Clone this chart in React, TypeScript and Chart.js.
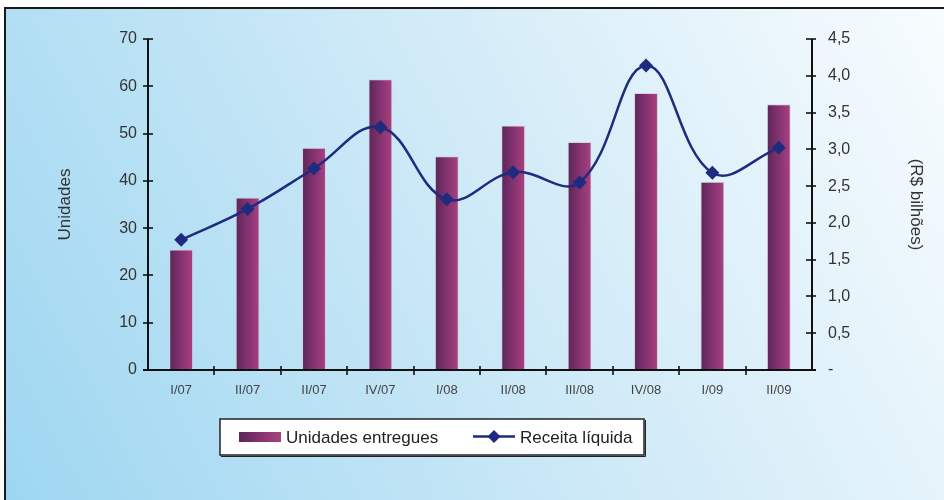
import React, { useEffect, useRef } from 'react';
import { Chart, registerables } from 'chart.js';

Chart.register(...registerables);

const categories = ['I/07', 'II/07', 'II/07', 'IV/07', 'I/08', 'II/08', 'III/08', 'IV/08', 'I/09', 'II/09'];
const unidades = [25.5, 36.5, 47, 61.5, 45.2, 51.7, 48.2, 58.6, 39.8, 56.2];
const receita = [1.77, 2.19, 2.74, 3.3, 2.32, 2.69, 2.55, 4.14, 2.68, 3.02];
const seriesLabels = ['Unidades entregues', 'Receita líquida'];
const axisTitles = ['Unidades', '(R$ bilhões)'];

const FONT = '"Liberation Sans", Arial, Helvetica, sans-serif';
const BAR_PCT = 0.36;

function makeBarGradient(ctx: CanvasRenderingContext2D, x0: number, x1: number) {
  const g = ctx.createLinearGradient(x0, 0, x1, 0);
  g.addColorStop(0, '#5a2657');
  g.addColorStop(0.5, '#853270');
  g.addColorStop(1, '#a8417e');
  return g;
}

const barColor = (c: any) => {
  const chart = c.chart;
  const xs = chart.scales && chart.scales.x;
  if (c.type !== 'data' || !xs || !chart.chartArea) return '#85326f';
  const cx = xs.getPixelForValue(c.dataIndex);
  const w = (xs.width / categories.length) * BAR_PCT;
  return makeBarGradient(chart.ctx, cx - w / 2, cx + w / 2);
};

const bgPlugin = {
  id: 'bgFrame',
  beforeDraw(chart: any) {
    const { ctx, width, height } = chart;
    ctx.save();
    ctx.fillStyle = '#ffffff';
    ctx.fillRect(0, 0, width, height);
    const g = ctx.createLinearGradient(0, height, width, 0);
    g.addColorStop(0, '#9dd6f1');
    g.addColorStop(0.5, '#cde9f7');
    g.addColorStop(1, '#f8fcfe');
    ctx.fillStyle = g;
    ctx.fillRect(5, 8, width, height);
    ctx.strokeStyle = '#1a1a1a';
    ctx.lineWidth = 2;
    ctx.strokeRect(5, 8, width + 20, height + 20);
    ctx.restore();
  },
};

const axesPlugin = {
  id: 'axesDraw',
  afterDatasetsDraw(chart: any) {
    const { ctx, chartArea, scales } = chart;
    const { left, right, top, bottom } = chartArea;
    const line = (x0: number, y0: number, x1: number, y1: number) => {
      ctx.beginPath();
      ctx.moveTo(x0, y0);
      ctx.lineTo(x1, y1);
      ctx.stroke();
    };
    ctx.save();
    ctx.strokeStyle = '#111111';
    ctx.lineWidth = 2;
    line(left, top, left, bottom);
    line(right, top, right, bottom);
    line(left - 5, bottom, right + 4, bottom);
    ctx.lineWidth = 1.6;
    scales.y.ticks.forEach((t: any) => {
      const y = Math.round(scales.y.getPixelForValue(t.value));
      line(left - 5, y, left + 5, y);
    });
    scales.y1.ticks.forEach((t: any) => {
      const y = Math.round(scales.y1.getPixelForValue(t.value));
      line(right - 6, y, right + 4, y);
    });
    const n = categories.length;
    for (let k = 1; k < n; k++) {
      const x = Math.round(left + (k * (right - left)) / n);
      line(x, bottom - 4, x, bottom + 5);
    }
    ctx.restore();
  },
};

const legendPlugin = {
  id: 'customLegend',
  afterDraw(chart: any) {
    const { ctx } = chart;
    ctx.save();
    // box
    ctx.fillStyle = '#ffffff';
    ctx.fillRect(220, 419, 424, 36);
    ctx.strokeStyle = '#222222';
    ctx.lineWidth = 1.5;
    ctx.strokeRect(220, 419, 424, 36);
    ctx.lineWidth = 1;
    ctx.beginPath();
    ctx.moveTo(221, 456.5);
    ctx.lineTo(645.5, 456.5);
    ctx.lineTo(645.5, 420);
    ctx.stroke();
    // bar swatch
    ctx.fillStyle = makeBarGradient(ctx, 239, 281);
    ctx.fillRect(239, 432, 42, 10);
    ctx.font = `17px ${FONT}`;
    ctx.fillStyle = '#222222';
    ctx.textBaseline = 'middle';
    ctx.textAlign = 'left';
    ctx.fillText(seriesLabels[0], 286, 438);
    // line swatch
    ctx.strokeStyle = '#1f2b7f';
    ctx.lineWidth = 2.5;
    ctx.beginPath();
    ctx.moveTo(473, 436.5);
    ctx.lineTo(515, 436.5);
    ctx.stroke();
    ctx.fillStyle = '#1f2b7f';
    ctx.beginPath();
    ctx.moveTo(494, 430);
    ctx.lineTo(500.5, 436.5);
    ctx.lineTo(494, 443);
    ctx.lineTo(487.5, 436.5);
    ctx.closePath();
    ctx.fill();
    ctx.fillStyle = '#222222';
    ctx.fillText(seriesLabels[1], 520, 438);
    ctx.restore();
  },
};

export default function App() {
  const ref = useRef<HTMLCanvasElement | null>(null);

  useEffect(() => {
    document.body.style.margin = '0';
    const canvas = ref.current;
    if (!canvas) return;
    const chart = new Chart(canvas, {
      type: 'bar',
      data: {
        labels: categories,
        datasets: [
          {
            type: 'line',
            label: seriesLabels[1],
            data: receita,
            yAxisID: 'y1',
            borderColor: '#1f2b7f',
            backgroundColor: '#1f2b7f',
            borderWidth: 2.5,
            pointStyle: 'rectRot',
            pointRadius: 7,
            pointBackgroundColor: '#1f2b7f',
            pointBorderColor: '#1f2b7f',
            pointBorderWidth: 0,
            tension: 0.4,
            order: 1,
          } as any,
          {
            type: 'bar',
            label: seriesLabels[0],
            data: unidades,
            yAxisID: 'y',
            backgroundColor: barColor,
            borderColor: 'rgba(215,205,225,0.9)',
            borderWidth: 1,
            barPercentage: BAR_PCT,
            categoryPercentage: 1,
            order: 2,
          } as any,
        ],
      },
      options: {
        responsive: false,
        animation: false,
        events: [],
        layout: { padding: { top: 39, left: 0, right: 0, bottom: 0 } },
        plugins: {
          legend: { display: false },
          tooltip: { enabled: false },
        },
        scales: {
          x: {
            type: 'category',
            grid: { display: false, drawTicks: false },
            border: { display: false },
            ticks: {
              font: { size: 13, family: FONT },
              color: '#444444',
              padding: 13,
              maxRotation: 0,
              minRotation: 0,
              autoSkip: false,
            },
            afterFit: (s: any) => {
              s.height = 130;
            },
          },
          y: {
            type: 'linear',
            position: 'left',
            min: 0,
            max: 70,
            grid: { display: false, drawTicks: false },
            border: { display: false },
            ticks: {
              stepSize: 10,
              font: { size: 16, family: FONT },
              color: '#333333',
              padding: 11,
            },
            title: {
              display: true,
              text: axisTitles[0],
              font: { size: 17, family: FONT },
              color: '#333333',
              padding: { top: 55, bottom: 0 },
            },
            afterFit: (s: any) => {
              s.width = 148;
            },
          },
          y1: {
            type: 'linear',
            position: 'right',
            min: 0,
            max: 4.5,
            grid: { display: false, drawTicks: false },
            border: { display: false },
            ticks: {
              stepSize: 0.5,
              font: { size: 16, family: FONT },
              color: '#333333',
              padding: 16,
              callback: (v: any) => (Number(v) === 0 ? '-' : Number(v).toFixed(1).replace('.', ',')),
            },
            title: {
              display: true,
              text: axisTitles[1],
              font: { size: 17, family: FONT },
              color: '#333333',
              padding: { top: 18, bottom: 0 },
            },
            afterFit: (s: any) => {
              s.width = 132;
            },
          },
        },
      },
      plugins: [bgPlugin, axesPlugin, legendPlugin],
    });
    return () => chart.destroy();
  }, []);

  return (
    <div style={{ width: 944, height: 500 }}>
      <canvas ref={ref} width={944} height={500} style={{ display: 'block', width: 944, height: 500 }} />
    </div>
  );
}
